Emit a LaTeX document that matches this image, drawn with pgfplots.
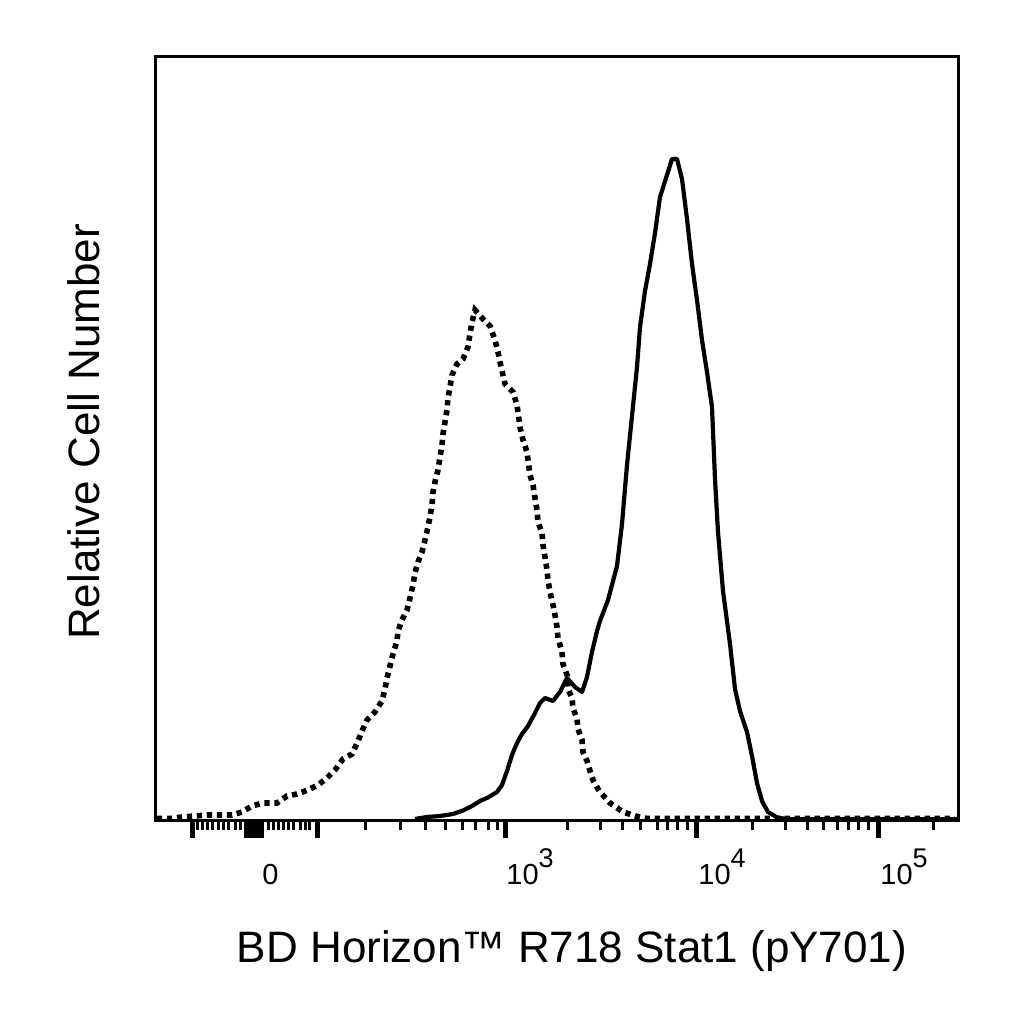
\documentclass[border=0pt]{standalone}
\usepackage{fontspec}
\setmainfont{Liberation Sans}
\usepackage{pgfplots}
\pgfplotsset{compat=1.18}

% x is given in display units of the biexponential scale (0 near 254, 10^3 at 505, 10^4 at 696, 10^5 at 878)
\pgfplotstableread{
x h
157 1.5
170 1.5
182 3
195 4
207 5
218 5
232 5
242 8
252 14
263 17
277 17
287 24
297 26
308 30
318 35
327 42
335 50
343 61
352 66
358 79
362 89
367 100
375 108
382 119
385 131
387 142
390 154
393 166
397 179
398 189
402 200
407 210
410 222
413 235
415 247
418 258
422 268
425 280
428 293
430 303
432 315
433 328
435 338
438 350
440 363
442 375
443 386
445 398
447 410
448 422
450 433
452 445
457 456
463 461
468 473
470 486
472 498
475 510
483 501
490 494
495 480
498 468
500 458
505 436
513 428
517 415
520 393
523 380
527 368
530 345
533 335
535 322
537 310
538 298
542 287
543 275
545 263
547 250
548 240
550 228
553 215
555 205
557 193
558 182
562 168
563 156
567 145
568 131
572 122
573 112
577 101
578 91
582 80
583 68
587 59
590 49
593 40
598 31
600 28
610 17
623 8
637 3.5
647 1.5
955 1.5
}\isotype

\pgfplotstableread{
x h
415 1
427 3
440 4
453 6
463 9.5
472 14
480 19
488 22.5
497 28
502 35
507 49
512 65
517 77
522 86
528 94
535 107
540 117
545 122
553 119
560 128
567 142
575 133
582 128
587 143
592 168
597 189
600 199
608 220
617 254
622 296
627 355
632 404
637 453
640 493
645 529
650 556
655 587
660 623
667 645
672 661
677 661
682 641
687 601
692 556
697 520
702 480
707 448
712 413
715 341
718 288
723 229
730 176
735 131
740 109
747 88
752 64
757 37
762 19
768 8
777 2.6
787 0.8
958 0.8
}\stained

\newcommand{\dec}[1]{10\raisebox{8.5pt}{\fontsize{13.5}{13.5}\selectfont #1}}

\begin{document}
\begin{tikzpicture}
\useasboundingbox (-77.5pt,-102pt) rectangle (434.5pt,410pt);
\begin{axis}[
  width=401.5pt, height=381.5pt, scale only axis,
  xmin=155, xmax=958, ymin=0, ymax=763,
  axis line style={line width=1.5pt},
  clip=false,
  ytick=\empty,
  xtick pos=lower, tick align=outside,
  xtick={192,246,249,252,255,258,261,317,505,696,878},
  minor xtick={197,202,207,212,218,223,228,235,240,268,273,278,283,288,293,300,305,309,
    365,400,425,445,462,475,488,497,567,600,622,640,657,667,677,687,
    752,785,807,823,837,848,858,868,933},
  xticklabels={},
  major tick length=9pt, minor tick length=5pt,
  major tick style={line width=2.5pt, black},
  minor tick style={line width=1.5pt, black},
]
\addplot[black, line width=2.8pt, dash pattern=on 2.6pt off 2.4pt] table[x=x, y=h] {\isotype};
\addplot[black, line width=2.1pt, line join=round] table[x=x, y=h] {\stained};

\begin{scope}[font=\fontsize{14.5}{14.5}\selectfont, inner sep=0pt]
\node[anchor=base west, yshift=-32pt] at (axis cs:262,0) {0};
\node[anchor=base west, yshift=-32pt] at (axis cs:506,0) {\dec{3}};
\node[anchor=base west, yshift=-32pt] at (axis cs:698,0) {\dec{4}};
\node[anchor=base west, yshift=-32pt] at (axis cs:880,0) {\dec{5}};
\end{scope}
\end{axis}
\node[anchor=base, font=\fontsize{22}{22}\selectfont] at (208.5pt,-71pt) {BD Horizon™ R718 Stat1 (pY701)};
\node[anchor=base, rotate=90, font=\fontsize{22}{22}\selectfont] at (-27.5pt,194pt) {Relative Cell Number};
\end{tikzpicture}
\end{document}
